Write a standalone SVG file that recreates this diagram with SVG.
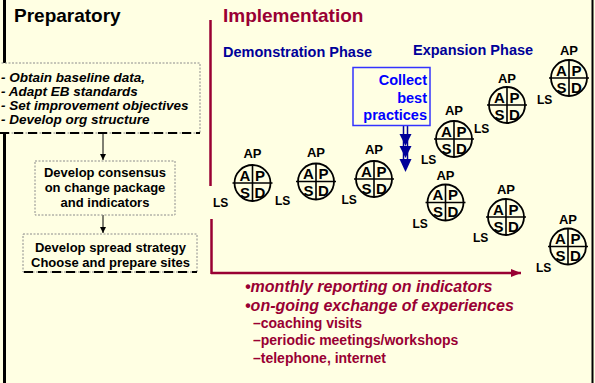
<svg xmlns="http://www.w3.org/2000/svg" width="595" height="383" viewBox="0 0 595 383">
<style>
text{font-family:"Liberation Sans",Arial,sans-serif;font-weight:bold}
.hdr{font-size:19px}
.blue{fill:#000099;font-size:14.5px}
.it{font-style:italic;font-size:13.5px;fill:#000}
.box{font-size:13px;fill:#000;text-anchor:middle}
.ap{font-size:13px;text-anchor:middle;fill:#000}
.q{font-size:15px;text-anchor:middle;fill:#000}
.ls{font-size:12px;fill:#000}
.cyc circle{fill:none;stroke:#000;stroke-width:1.8}
.cyc line{stroke:#000;stroke-width:1.6}
.red{fill:#990033}
.b1{font-size:16px;font-style:italic}
.b2{font-size:14px}
.dot{fill:#FFFFE3;stroke:#8c8c8c;stroke-width:1;stroke-dasharray:2,1.5}
.dash{stroke:#000;stroke-width:2;stroke-dasharray:9,5;fill:none}
.conn{stroke:#000;stroke-width:1;fill:none;marker-end:url(#ah)}
</style>
<defs>
<marker id="ah" markerWidth="8" markerHeight="8" refX="6" refY="4" orient="auto" markerUnits="userSpaceOnUse">
<path d="M0,1 L6,4 L0,7 Z" fill="#000"/>
</marker>
<marker id="rah" markerWidth="12" markerHeight="10" refX="10" refY="5" orient="auto" markerUnits="userSpaceOnUse">
<path d="M0,1 L10,5 L0,9 Z" fill="#990033"/>
</marker>
</defs>
<rect x="0" y="0" width="595" height="383" fill="#FFFFE3"/>
<line x1="4.5" y1="0" x2="4.5" y2="383" stroke="#000" stroke-width="3"/>
<line x1="592.5" y1="0" x2="592.5" y2="383" stroke="#000" stroke-width="2"/>

<g id="headers">
<text class="hdr" x="14" y="22" fill="#000">Preparatory</text>
<text class="hdr red" x="223" y="22" font-size="19.5">Implementation</text>
<text class="blue" x="223" y="57">Demonstration Phase</text>
<text class="blue" x="413" y="55">Expansion Phase</text>
</g>

<g id="connectors">
<line class="conn" x1="103" y1="134" x2="103" y2="160"/>
<line class="conn" x1="103" y1="215" x2="103" y2="233"/>
<line x1="210.5" y1="20" x2="210.5" y2="186" stroke="#990033" stroke-width="2.5"/>
<line x1="211.5" y1="219" x2="211.5" y2="274" stroke="#990033" stroke-width="2.5"/>
<line x1="211" y1="273" x2="521" y2="273" stroke="#990033" stroke-width="2.5" marker-end="url(#rah)"/>
<g id="blue-arrows" fill="#000099" stroke="#000099">
<line x1="403.5" y1="126" x2="403.5" y2="160" stroke-width="1.5"/>
<line x1="407.5" y1="126" x2="407.5" y2="160" stroke-width="1.5"/>
<path d="M399.5,134 L411.5,134 L405.5,146 Z" stroke="none"/>
<path d="M399.5,146 L411.5,146 L405.5,158 Z" stroke="none"/>
<path d="M399.5,159 L411.5,159 L405.5,172 Z" stroke="none"/>
</g>
</g>

<g id="prep-tasks">
<rect x="-2" y="63" width="202" height="70" class="dot"/>
<line x1="0" y1="133" x2="200" y2="133" class="dash"/>
<text class="it" x="1" y="82">- Obtain baseline data,</text>
<text class="it" x="1" y="96">- Adapt EB standards</text>
<text class="it" x="1" y="110">- Set improvement objectives</text>
<text class="it" x="1" y="124">- Develop org structure</text>
</g>

<g id="consensus">
<rect x="35" y="161" width="140" height="54" class="dot"/>
<text class="box" x="105" y="177">Develop consensus</text>
<text class="box" x="105" y="192">on change package</text>
<text class="box" x="105" y="207">and indicators</text>
</g>

<g id="spread">
<rect x="23" y="234" width="174" height="38" class="dot"/>
<line x1="24" y1="272" x2="197" y2="272" class="dash"/>
<text class="box" x="110.5" y="252">Develop spread strategy</text>
<text class="box" x="110.5" y="267">Choose and prepare sites</text>
</g>

<g id="collect">
<rect x="353" y="67.5" width="77" height="58" fill="#FFFFE3" stroke="#3333FF" stroke-width="1.5"/>
<text x="427" y="85" font-size="14.5" fill="#0000FF" text-anchor="end">Collect</text>
<text x="427" y="102.5" font-size="14.5" fill="#0000FF" text-anchor="end">best</text>
<text x="427" y="120" font-size="14.5" fill="#0000FF" text-anchor="end">practices</text>
</g>

<g id="cycle1" class="cyc" transform="translate(252.5,183)">
<text class="ap" x="0" y="-25">AP</text><circle r="18"/><line x1="-20" y1="0" x2="20" y2="0"/><line x1="0" y1="-18" x2="0" y2="18.5"/>
<text class="q" x="-7.5" y="-2.5">A</text><text class="q" x="7.5" y="-2.5">P</text><text class="q" x="-7.5" y="14.5">S</text><text class="q" x="7.5" y="14.5">D</text>
<text class="ls" x="-39.5" y="24">LS</text></g>

<g id="cycle2" class="cyc" transform="translate(316,181.5)">
<text class="ap" x="0" y="-25">AP</text><circle r="18"/><line x1="-20" y1="0" x2="20" y2="0"/><line x1="0" y1="-18" x2="0" y2="18.5"/>
<text class="q" x="-7.5" y="-2.5">A</text><text class="q" x="7.5" y="-2.5">P</text><text class="q" x="-7.5" y="14.5">S</text><text class="q" x="7.5" y="14.5">D</text>
<text class="ls" x="-41" y="23">LS</text></g>

<g id="cycle3" class="cyc" transform="translate(374,179)">
<text class="ap" x="0" y="-25">AP</text><circle r="18"/><line x1="-20" y1="0" x2="20" y2="0"/><line x1="0" y1="-18" x2="0" y2="18.5"/>
<text class="q" x="-7.5" y="-2.5">A</text><text class="q" x="7.5" y="-2.5">P</text><text class="q" x="-7.5" y="14.5">S</text><text class="q" x="7.5" y="14.5">D</text>
<text class="ls" x="-32.5" y="25">LS</text></g>

<g id="cycle4" class="cyc" transform="translate(445.5,202.5)">
<text class="ap" x="0" y="-23">AP</text><circle r="18"/><line x1="-20" y1="0" x2="20" y2="0"/><line x1="0" y1="-18" x2="0" y2="18.5"/>
<text class="q" x="-7.5" y="-2.5">A</text><text class="q" x="7.5" y="-2.5">P</text><text class="q" x="-7.5" y="14.5">S</text><text class="q" x="7.5" y="14.5">D</text>
<text class="ls" x="-33" y="25">LS</text></g>

<g id="cycle5" class="cyc" transform="translate(506,217)">
<text class="ap" x="0" y="-23">AP</text><circle r="18"/><line x1="-20" y1="0" x2="20" y2="0"/><line x1="0" y1="-18" x2="0" y2="18.5"/>
<text class="q" x="-7.5" y="-2.5">A</text><text class="q" x="7.5" y="-2.5">P</text><text class="q" x="-7.5" y="14.5">S</text><text class="q" x="7.5" y="14.5">D</text>
<text class="ls" x="-33" y="25">LS</text></g>

<g id="cycle6" class="cyc" transform="translate(568,246.5)">
<text class="ap" x="0" y="-23">AP</text><circle r="18"/><line x1="-20" y1="0" x2="20" y2="0"/><line x1="0" y1="-18" x2="0" y2="18.5"/>
<text class="q" x="-7.5" y="-2.5">A</text><text class="q" x="7.5" y="-2.5">P</text><text class="q" x="-7.5" y="14.5">S</text><text class="q" x="7.5" y="14.5">D</text>
<text class="ls" x="-32" y="25">LS</text></g>

<g id="cycle7" class="cyc" transform="translate(454,139)">
<text class="ap" x="0" y="-24">AP</text><circle r="18"/><line x1="-20" y1="0" x2="20" y2="0"/><line x1="0" y1="-18" x2="0" y2="18.5"/>
<text class="q" x="-7.5" y="-2.5">A</text><text class="q" x="7.5" y="-2.5">P</text><text class="q" x="-7.5" y="14.5">S</text><text class="q" x="7.5" y="14.5">D</text>
<text class="ls" x="-33" y="25">LS</text></g>

<g id="cycle8" class="cyc" transform="translate(507,105)">
<text class="ap" x="0" y="-22">AP</text><circle r="18"/><line x1="-20" y1="0" x2="20" y2="0"/><line x1="0" y1="-18" x2="0" y2="18.5"/>
<text class="q" x="-7.5" y="-2.5">A</text><text class="q" x="7.5" y="-2.5">P</text><text class="q" x="-7.5" y="14.5">S</text><text class="q" x="7.5" y="14.5">D</text>
<text class="ls" x="-33" y="28">LS</text></g>

<g id="cycle9" class="cyc" transform="translate(569,78)">
<text class="ap" x="0" y="-23">AP</text><circle r="18"/><line x1="-20" y1="0" x2="20" y2="0"/><line x1="0" y1="-18" x2="0" y2="18.5"/>
<text class="q" x="-7.5" y="-2.5">A</text><text class="q" x="7.5" y="-2.5">P</text><text class="q" x="-7.5" y="14.5">S</text><text class="q" x="7.5" y="14.5">D</text>
<text class="ls" x="-32" y="26">LS</text></g>

<g id="reporting">
<text class="red b1" x="245" y="292">•monthly reporting on indicators</text>
<text class="red b1" x="245" y="311">•on-going exchange of experiences</text>
<text class="red b2" x="253" y="328">–coaching visits</text>
<text class="red b2" x="253" y="345">–periodic meetings/workshops</text>
<text class="red b2" x="253" y="362.5">–telephone, internet</text>
</g>
</svg>
